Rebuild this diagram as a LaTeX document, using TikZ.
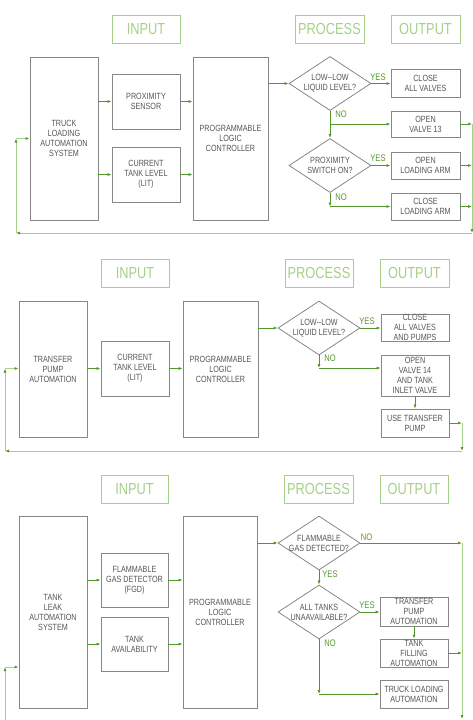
\documentclass[tikz,border=0pt]{standalone}
\usepackage{fontspec}
\newfontfamily\cadfont[FakeStretch=0.8]{Liberation Sans}
\definecolor{boxgray}{RGB}{135,135,135}
\definecolor{txtgray}{RGB}{85,85,85}
\definecolor{flowgreen}{RGB}{84,150,44}
\definecolor{headgreen}{RGB}{165,208,135}
\usetikzlibrary{shapes.geometric, arrows.meta, positioning, calc}

\begin{document}
\begin{tikzpicture}[x=1pt, y=-1pt,
  blk/.style={draw=boxgray, line width=0.8pt, align=center, text=txtgray,
              font=\cadfont\fontsize{9}{10}\selectfont, inner sep=0pt},
  head/.style={draw=headgreen, line width=0.8pt, text=headgreen, inner sep=0pt,
               font=\cadfont\fontsize{16}{18}\selectfont,
               minimum width=68pt, minimum height=28pt},
  dec/.style={diamond, draw=boxgray, line width=0.8pt, inner sep=0pt,
              minimum width=82pt, minimum height=54pt},
  dtxt/.style={align=center, text=txtgray, inner sep=0pt,
               font=\cadfont\fontsize{9}{10}\selectfont},
  tag/.style={text=flowgreen, inner sep=0pt, font=\cadfont\fontsize{9.5}{10}\selectfont},
  arr/.style={-{Latex[length=4pt, width=3pt]}, flowgreen, line width=0.7pt},
  ret/.style={-{Latex[length=4pt, width=3pt, color=flowgreen]}, headgreen, line width=0.8pt}
]
  \useasboundingbox (0,0) rectangle (473,720);

  % truck loading
  \node[head] (in1) at (146,29) {INPUT};
  \node[head, minimum width=69pt] (pr1) at (329.5,29) {PROCESS};
  \node[head, minimum width=69pt] (out1) at (425.5,29) {OUTPUT};

  \node[blk, minimum width=68pt, minimum height=163pt] (tlas) at (64,138.5)
    {TRUCK\\LOADING\\AUTOMATION\\SYSTEM};
  \node[blk, minimum width=68pt, minimum height=55pt] (prox) at (146,101.5)
    {PROXIMITY\\SENSOR};
  \node[blk, minimum width=68pt, minimum height=55pt] (lit1) at (146,174.5)
    {CURRENT\\TANK LEVEL\\(LIT)};
  \node[blk, minimum width=75pt, minimum height=163pt] (plc1) at (230.5,138.5)
    {PROGRAMMABLE\\LOGIC\\CONTROLLER};

  \node[dec] (d1) at (330,83.5) {};
  \node[dtxt] (d1t) at (d1) {LOW--LOW\\LIQUID LEVEL?};
  \node[dec] (d2) at (330,165.5) {};
  \node[dtxt] (d2t) at (d2) {PROXIMITY\\SWITCH ON?};

  \node[blk, minimum width=69pt, minimum height=28pt] (cav) at (425.5,83) {CLOSE\\ALL VALVES};
  \node[blk, minimum width=69pt, minimum height=26pt] (ov13) at (425.5,124) {OPEN\\VALVE 13};
  \node[blk, minimum width=69pt, minimum height=27pt] (ola) at (425.5,165.5) {OPEN\\LOADING ARM};
  \node[blk, minimum width=69pt, minimum height=27pt] (cla) at (425.5,206.5) {CLOSE\\LOADING ARM};

  \node[tag] (y1) at (378,77) {YES};
  \node[tag] (n1) at (341,114) {NO};
  \node[tag] (y2) at (378,158) {YES};
  \node[tag] (n2) at (341,197) {NO};

  \draw[arr] (tlas.east |- prox.west) -- (prox.west);
  \draw[arr] (tlas.east |- lit1.west) -- (lit1.west);
  \draw[arr] (prox.east) -- (prox.east -| plc1.west);
  \draw[arr] (lit1.east) -- (lit1.east -| plc1.west);
  \draw[arr] (plc1.east |- d1.west) -- (d1.west);
  \draw[arr] (d1.east) -- (d1.east -| cav.west);
  \draw[arr] (d1.south) -- (d2.north);
  \draw[arr] (d1.south |- ov13.west) -- (ov13.west);
  \draw[arr] (d2.east) -- (d2.east -| ola.west);
  \coordinate (c1) at (d2.south |- cla.west);
  \draw[arr] (d2.south) -- (c1);
  \draw[arr] (c1) -- (cla.west);

  \coordinate (r1) at (472,233);
  \coordinate (l1) at (16,233);
  \draw[arr] (ov13.east) -- (ov13.east -| r1);
  \draw[arr] (ola.east) -- (ola.east -| r1);
  \draw[arr] (cla.east) -- (cla.east -| r1);
  \draw[ret] (ov13.east -| r1) -- (r1);
  \draw[ret] (r1) -- (l1);
  \draw[ret] (l1) -- (l1 |- tlas.west);
  \draw[ret] (l1 |- tlas.west) -- (tlas.west);

  % transfer pump
  \node[head] (in2) at (135,273) {INPUT};
  \node[head] (pr2) at (319,273) {PROCESS};
  \node[head, minimum width=69pt] (out2) at (414.5,273) {OUTPUT};

  \node[blk, minimum width=68pt, minimum height=136pt] (tpa) at (53,369)
    {TRANSFER\\PUMP\\AUTOMATION};
  \node[blk, minimum width=68pt, minimum height=55pt] (lit2) at (135,368.5)
    {CURRENT\\TANK LEVEL\\(LIT)};
  \node[blk, minimum width=75pt, minimum height=136pt] (plc2) at (220.5,369)
    {PROGRAMMABLE\\LOGIC\\CONTROLLER};

  \node[dec] (d3) at (319,328) {};
  \node[dtxt] (d3t) at (d3) {LOW--LOW\\LIQUID LEVEL?};

  \node[blk, minimum width=68pt, minimum height=27pt] (cavp) at (415,327.5)
    {CLOSE\\ALL VALVES\\AND PUMPS};
  \node[blk, minimum width=68pt, minimum height=41pt] (ov14) at (415,375.5)
    {OPEN\\VALVE 14\\AND TANK\\INLET VALVE};
  \node[blk, minimum width=68pt, minimum height=28pt] (utp) at (415,423)
    {USE TRANSFER\\PUMP};

  \node[tag] (y3) at (367,321) {YES};
  \node[tag] (n3) at (330,358) {NO};

  \draw[arr] (tpa.east |- lit2.west) -- (lit2.west);
  \draw[arr] (lit2.east) -- (lit2.east -| plc2.west);
  \draw[arr] (plc2.east |- d3.west) -- (d3.west);
  \draw[arr] (d3.east) -- (d3.east -| cavp.west);
  \coordinate (c3) at (319,368);
  \draw[arr] (d3.south) -- (c3);
  \draw[arr] (c3) -- (c3 -| ov14.west);
  \draw[arr] (ov14.south) -- (utp.north);

  \coordinate (r2) at (462,451);
  \coordinate (l2) at (5,451);
  \draw[arr] (utp.east) -- (utp.east -| r2);
  \draw[ret] (utp.east -| r2) -- (r2);
  \draw[ret] (r2) -- (l2);
  \draw[ret] (l2) -- (l2 |- lit2.west);
  \draw[ret] (l2 |- lit2.west) -- (l2 |- lit2.west -| tpa.west);

  % tank leak
  \node[head, minimum width=67pt] (in3) at (134.5,489) {INPUT};
  \node[head, minimum width=69pt] (pr3) at (318.5,489) {PROCESS};
  \node[head] (out3) at (414,489) {OUTPUT};

  \node[blk, minimum width=68pt, minimum height=192pt] (tla) at (53,612)
    {TANK\\LEAK\\AUTOMATION\\SYSTEM};
  \node[blk, minimum width=67pt, minimum height=54pt] (fgd) at (134.5,580)
    {FLAMMABLE\\GAS DETECTOR\\(FGD)};
  \node[blk, minimum width=67pt, minimum height=54pt] (tav) at (134.5,644)
    {TANK\\AVAILABILITY};
  \node[blk, minimum width=74pt, minimum height=192pt] (plc3) at (220,612)
    {PROGRAMMABLE\\LOGIC\\CONTROLLER};

  \node[dec] (d4) at (319,543) {};
  \node[dtxt] (d4t) at (d4) {FLAMMABLE\\GAS DETECTED?};
  \node[dec] (d5) at (319,612) {};
  \node[dtxt] (d5t) at (d5) {ALL TANKS\\UNAAVAILABLE?};

  \node[blk, minimum width=68pt, minimum height=29pt] (tpa3) at (414,611.5)
    {TRANSFER\\PUMP\\AUTOMATION};
  \node[blk, minimum width=68pt, minimum height=28pt] (tfa) at (414,653)
    {TANK\\FILLING\\AUTOMATION};
  \node[blk, minimum width=68pt, minimum height=28pt] (tlo) at (414,694)
    {TRUCK LOADING\\AUTOMATION};

  \node[tag] (n4) at (366.5,537) {NO};
  \node[tag] (y4) at (330,574) {YES};
  \node[tag] (y5) at (367,605) {YES};
  \node[tag] (n5) at (330,643) {NO};

  \draw[arr] (tla.east |- fgd.west) -- (fgd.west);
  \draw[arr] (tla.east |- tav.west) -- (tav.west);
  \draw[arr] (fgd.east) -- (fgd.east -| plc3.west);
  \draw[arr] (tav.east) -- (tav.east -| plc3.west);
  \draw[arr] (plc3.east |- d4.west) -- (d4.west);
  \draw[arr] (d4.south) -- (d5.north);
  \draw[arr] (d5.east) -- (d5.east -| tpa3.west);
  \draw[arr] (tpa3.south) -- (tfa.north);
  \coordinate (c5) at (d5.south |- tlo.west);
  \draw[arr] (d5.south) -- (c5);
  \draw[arr] (c5) -- (tlo.west);

  \coordinate (r3) at (462,719);
  \coordinate (l3) at (5,720);
  \coordinate (l3u) at (5,667);
  \draw[arr] (d4.east) -- (d4.east -| r3);
  \draw[arr] (tfa.east) -- (tfa.east -| r3);
  \draw[ret] (d4.east -| r3) -- (r3);
  \draw[ret] (l3) -- (l3u);
  \draw[ret] (l3u) -- (l3u -| tla.west);
\end{tikzpicture}
\end{document}
